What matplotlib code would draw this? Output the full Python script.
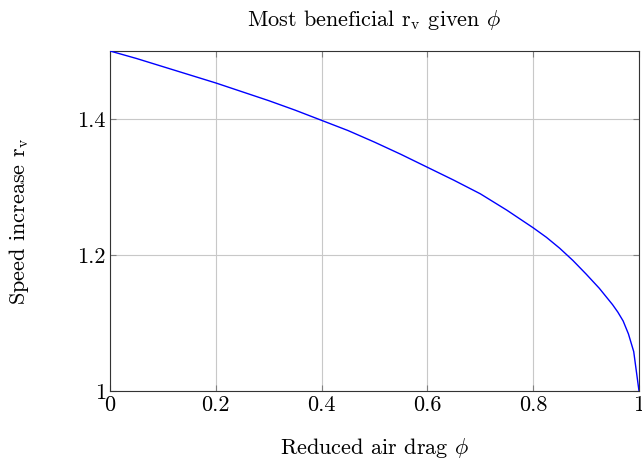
import matplotlib
matplotlib.use("Agg")
import matplotlib.pyplot as plt

phi = [0.00, 0.05, 0.10, 0.15, 0.20, 0.25, 0.30, 0.35, 0.40, 0.45, 0.50,
       0.55, 0.60, 0.65, 0.70, 0.75, 0.80, 0.825, 0.85, 0.875, 0.90, 0.925,
       0.95, 0.96, 0.97, 0.98, 0.99, 1.00]
r_v = [1.500, 1.489, 1.477, 1.465, 1.453, 1.440, 1.427, 1.413, 1.398, 1.383, 1.366,
       1.348, 1.329, 1.310, 1.290, 1.266, 1.240, 1.226, 1.210, 1.192, 1.172, 1.151,
       1.127, 1.116, 1.103, 1.084, 1.058, 1.000]

xticks = [0, 0.2, 0.4, 0.6, 0.8, 1]
xticklabels = ["0", "0.2", "0.4", "0.6", "0.8", "1"]
yticks = [1, 1.2, 1.4]
yticklabels = ["1", "1.2", "1.4"]

plt.rcParams['font.family'] = 'serif'
plt.rcParams['font.serif'] = ['cmr10', 'DejaVu Serif']
plt.rcParams['mathtext.fontset'] = 'cm'
plt.rcParams['axes.unicode_minus'] = False

fs = 16
fig = plt.figure(figsize=(6.42, 4.61), dpi=100)
ax = fig.add_axes([110/642, 1 - 391/461, 529/642, 340/461])
ax.plot(phi, r_v, color='#0000ff', lw=1.0, zorder=3)
ax.set_xlim(0, 1)
ax.set_ylim(1, 1.5)
ax.set_xticks(xticks)
ax.set_xticklabels(xticklabels)
ax.set_yticks(yticks)
ax.set_yticklabels(yticklabels)
ax.grid(True, color='#c8c8c8', lw=0.8, zorder=0)
ax.tick_params(direction='in', length=4, width=0.8, color='#808080',
               top=True, right=True, labelsize=fs, pad=3)
for s in ax.spines.values():
    s.set_color('#333333')
    s.set_linewidth(0.8)
ax.set_title(r'Most beneficial r$_\mathrm{v}$ given $\phi$', fontsize=fs, pad=18)
ax.set_xlabel(r'Reduced air drag $\phi$', fontsize=fs, labelpad=15)
ax.set_ylabel(r'Speed increase r$_\mathrm{v}$', fontsize=fs, labelpad=33)
fig.savefig('out.png', dpi=100)
